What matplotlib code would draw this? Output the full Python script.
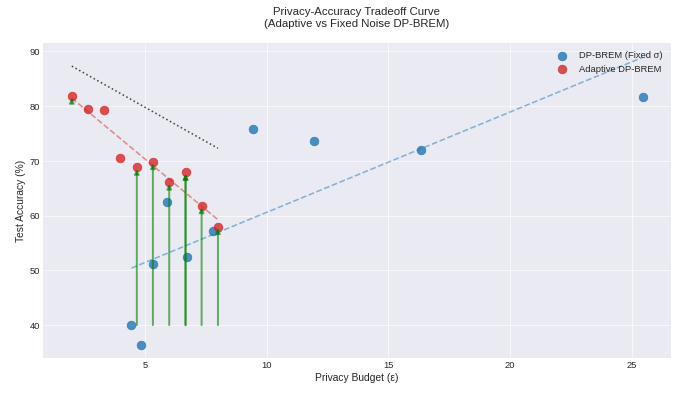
import numpy as np
import matplotlib
matplotlib.use("Agg")
import matplotlib.pyplot as plt

# valores
eps_fixed = [4.45, 4.85, 5.33, 5.89, 6.73, 7.81, 9.45, 11.96, 16.34, 25.44]
acc_fixed = [40.0, 36.45, 51.2, 62.4, 52.4, 57.2, 75.9, 73.6, 72.0, 81.6]

eps_adapt = [2.0, 2.67, 3.33, 4.0, 4.67, 5.33, 6.0, 6.67, 7.33, 8.0]
acc_adapt = [81.8, 79.5, 79.25, 70.5, 68.8, 69.85, 66.1, 67.9, 61.8, 58.0]

# flechas de mejora (x, y inicio, y fin)
arrow_x = [2.0, 4.67, 5.33, 6.0, 6.67, 6.67, 7.33, 8.0]
arrow_y0 = [80.9, 40.0, 40.0, 40.0, 40.0, 40.0, 40.0, 40.0]
arrow_y1 = [81.8, 68.8, 69.85, 66.1, 67.9, 67.9, 61.8, 58.0]

# linea de referencia punteada
ref_x = [2.0, 8.0]
ref_y = [87.3, 72.3]

plt.style.use("seaborn-v0_8-darkgrid")
plt.rcParams["font.family"] = ["Liberation Sans", "DejaVu Sans"]

fig, ax = plt.subplots(figsize=(12, 7), dpi=56.6)
fig.subplots_adjust(left=0.063, right=0.988, top=0.892, bottom=0.096)

ax.scatter(eps_fixed, acc_fixed, s=120, color="#1f77b4", alpha=0.8, label="DP-BREM (Fixed σ)", zorder=3)
ax.scatter(eps_adapt, acc_adapt, s=120, color="#d62728", alpha=0.8, label="Adaptive DP-BREM", zorder=3)

# tendencias lineales
z = np.polyfit(eps_fixed, acc_fixed, 1)
xf = np.array([min(eps_fixed), max(eps_fixed)])
ax.plot(xf, np.polyval(z, xf), "--", color="#1f77b4", alpha=0.5, lw=2)

z2 = np.polyfit(eps_adapt, acc_adapt, 1)
xa = np.array([min(eps_adapt), max(eps_adapt)])
ax.plot(xa, np.polyval(z2, xa), "--", color="#d62728", alpha=0.5, lw=2)

ax.plot(ref_x, ref_y, ":", color="black", alpha=0.7, lw=2)

for x, y0, y1 in zip(arrow_x, arrow_y0, arrow_y1):
    ax.annotate("", xy=(x, y1), xytext=(x, y0),
                arrowprops=dict(arrowstyle="-|>", color="green", alpha=0.6, lw=2.5,
                                mutation_scale=12, shrinkA=0, shrinkB=2))

ax.set_xlim(0.81, 26.6)
ax.set_ylim(34.0, 91.6)
ax.set_xlabel("Privacy Budget (ε)", fontsize=13)
ax.set_ylabel("Test Accuracy (%)", fontsize=13)
ax.set_title("Privacy-Accuracy Tradeoff Curve\n(Adaptive vs Fixed Noise DP-BREM)", fontsize=14.5, pad=20)
ax.tick_params(labelsize=12)
ax.legend(loc="upper right", fontsize=12)

fig.savefig("out.png", dpi=56.6)
